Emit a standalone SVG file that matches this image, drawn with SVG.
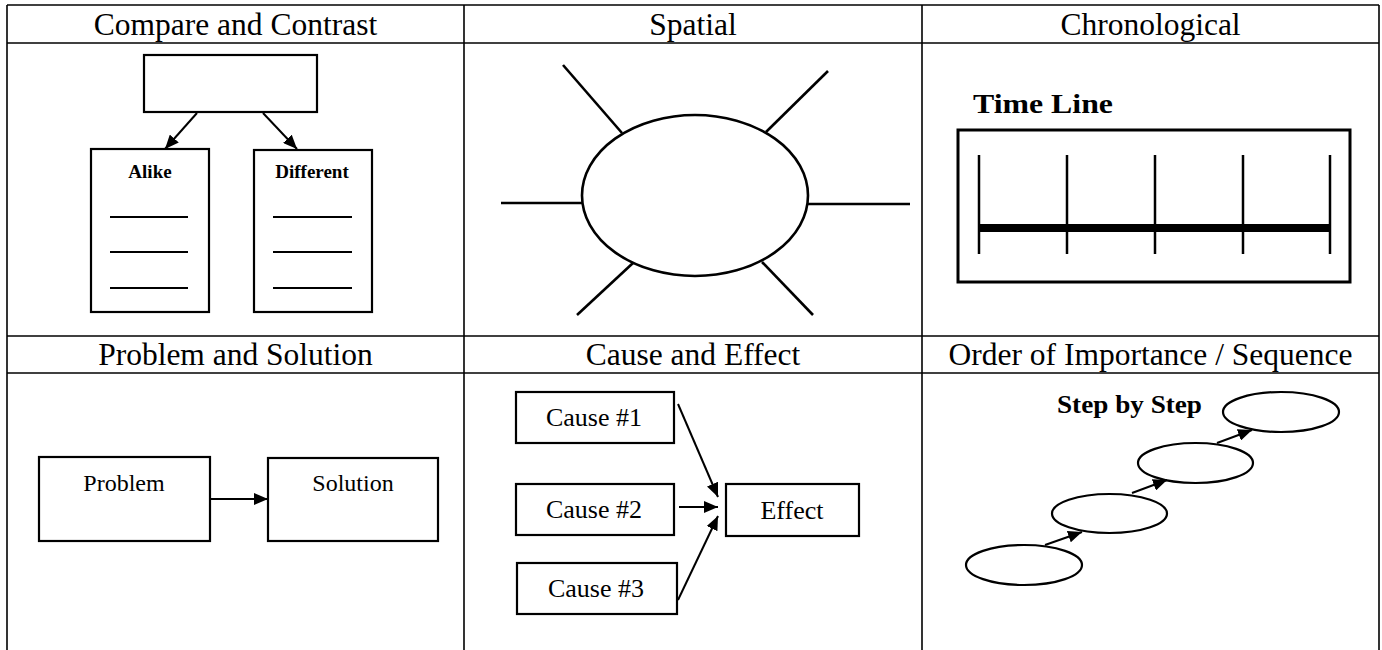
<svg xmlns="http://www.w3.org/2000/svg" width="1382" height="650" viewBox="0 0 1382 650">
<style>
.grid{stroke:#000;stroke-width:1.6;fill:none}
.hdr{font-family:"Liberation Serif","Times New Roman",serif;font-size:31.5px;text-anchor:middle;fill:#000}
.box{fill:#fff;stroke:#000;stroke-width:2.2}
.thin{stroke:#000;stroke-width:2;fill:none}
.lbl{font-family:"Liberation Serif","Times New Roman",serif;text-anchor:middle;fill:#000}
.arr{stroke:#000;stroke-width:2;fill:none;marker-end:url(#ah)}
</style>
<defs>
<marker id="ah" markerUnits="userSpaceOnUse" markerWidth="16" markerHeight="12" refX="14" refY="6" orient="auto">
<path d="M0,0 L14,6 L0,12 z" fill="#000"/>
</marker>
</defs>
<rect width="1382" height="650" fill="#fff"/>
<g id="table">
<line class="grid" x1="7" y1="5" x2="1379" y2="5"/>
<line class="grid" x1="7" y1="43" x2="1379" y2="43"/>
<line class="grid" x1="7" y1="336" x2="1379" y2="336"/>
<line class="grid" x1="7" y1="373" x2="1379" y2="373"/>
<line class="grid" x1="7" y1="5" x2="7" y2="650"/>
<line class="grid" x1="464" y1="5" x2="464" y2="650"/>
<line class="grid" x1="922" y1="5" x2="922" y2="650"/>
<line class="grid" x1="1379" y1="5" x2="1379" y2="650"/>
<text class="hdr" x="235.5" y="35">Compare and Contrast</text>
<text class="hdr" x="693" y="35">Spatial</text>
<text class="hdr" x="1150.5" y="35">Chronological</text>
<text class="hdr" x="235.5" y="365">Problem and Solution</text>
<text class="hdr" x="693" y="365">Cause and Effect</text>
<text class="hdr" x="1150.5" y="365">Order of Importance / Sequence</text>
</g>
<g id="compare-top"><rect class="box" x="144" y="55" width="173" height="57"/></g>
<g id="compare-alike">
<rect class="box" x="91" y="149" width="118" height="163"/>
<text class="lbl" x="150" y="178" font-size="19" font-weight="bold">Alike</text>
<line class="thin" x1="110" y1="217" x2="188" y2="217"/>
<line class="thin" x1="110" y1="252" x2="188" y2="252"/>
<line class="thin" x1="110" y1="288" x2="188" y2="288"/>
</g>
<g id="compare-different">
<rect class="box" x="254" y="150" width="118" height="162"/>
<text class="lbl" x="312" y="178" font-size="19" font-weight="bold">Different</text>
<line class="thin" x1="273" y1="217" x2="352" y2="217"/>
<line class="thin" x1="273" y1="252" x2="352" y2="252"/>
<line class="thin" x1="273" y1="288" x2="352" y2="288"/>
</g>
<g id="spatial">
<ellipse cx="695" cy="195.5" rx="113" ry="80.5" fill="#fff" stroke="#000" stroke-width="2.6"/>
<g stroke="#000" stroke-width="2.6">
<line x1="563" y1="65" x2="622" y2="133"/>
<line x1="828" y1="71" x2="766" y2="132"/>
<line x1="501" y1="203" x2="582" y2="203"/>
<line x1="808" y1="204" x2="910" y2="204"/>
<line x1="633" y1="263" x2="577" y2="315"/>
<line x1="762" y1="262" x2="813" y2="315"/>
</g>
</g>
<g id="timeline">
<text x="973" y="113" font-family="Liberation Serif,'Times New Roman',serif" font-size="28" font-weight="bold" textLength="140" lengthAdjust="spacingAndGlyphs">Time Line</text>
<rect x="958" y="130" width="392" height="152" fill="none" stroke="#000" stroke-width="3"/>
<g stroke="#000" stroke-width="2.5">
<line x1="979" y1="155" x2="979" y2="254"/>
<line x1="1067" y1="155" x2="1067" y2="254"/>
<line x1="1155" y1="155" x2="1155" y2="254"/>
<line x1="1243" y1="155" x2="1243" y2="254"/>
<line x1="1330" y1="155" x2="1330" y2="254"/>
</g>
<line x1="979" y1="228" x2="1330" y2="228" stroke="#000" stroke-width="8"/>
</g>
<g id="problem">
<rect class="box" x="39" y="457" width="171" height="84"/>
<text class="lbl" x="124" y="491" font-size="24">Problem</text>
</g>
<g id="solution">
<rect class="box" x="268" y="458" width="170" height="83"/>
<text class="lbl" x="353" y="491" font-size="24">Solution</text>
</g>
<g id="cause1">
<rect class="box" x="516" y="392" width="158" height="51"/>
<text class="lbl" x="594" y="426" font-size="26">Cause #1</text>
</g>
<g id="cause2">
<rect class="box" x="516" y="484" width="158" height="51"/>
<text class="lbl" x="594" y="518" font-size="26">Cause #2</text>
</g>
<g id="cause3">
<rect class="box" x="517" y="563" width="160" height="51"/>
<text class="lbl" x="596" y="597" font-size="26">Cause #3</text>
</g>
<g id="effect">
<rect class="box" x="726" y="484" width="133" height="52"/>
<text class="lbl" x="792" y="519" font-size="26">Effect</text>
</g>
<g id="steps-title">
<text x="1057" y="413" font-family="Liberation Serif,'Times New Roman',serif" font-size="25" font-weight="bold" textLength="145" lengthAdjust="spacingAndGlyphs">Step by Step</text>
</g>
<g id="step1"><ellipse cx="1024" cy="565" rx="58" ry="20" fill="#fff" stroke="#000" stroke-width="2.2"/></g>
<g id="step2"><ellipse cx="1109.5" cy="513.5" rx="57.5" ry="19.5" fill="#fff" stroke="#000" stroke-width="2.2"/></g>
<g id="step3"><ellipse cx="1195.5" cy="463" rx="57.5" ry="20" fill="#fff" stroke="#000" stroke-width="2.2"/></g>
<g id="step4"><ellipse cx="1281" cy="412" rx="58" ry="20" fill="#fff" stroke="#000" stroke-width="2.2"/></g>
<g id="connectors">
<line class="arr" x1="197" y1="113" x2="165" y2="149"/>
<line class="arr" x1="263" y1="113" x2="297" y2="149"/>
<line class="arr" x1="210" y1="499" x2="268" y2="499"/>
<line class="arr" x1="678" y1="404" x2="718" y2="497"/>
<line class="arr" x1="679" y1="507" x2="718" y2="507"/>
<line class="arr" x1="678" y1="600" x2="718" y2="516"/>
<line class="arr" x1="1045" y1="545" x2="1082" y2="532"/>
<line class="arr" x1="1132" y1="493" x2="1167" y2="480"/>
<line class="arr" x1="1217" y1="443" x2="1252" y2="430"/>
</g>
</svg>
